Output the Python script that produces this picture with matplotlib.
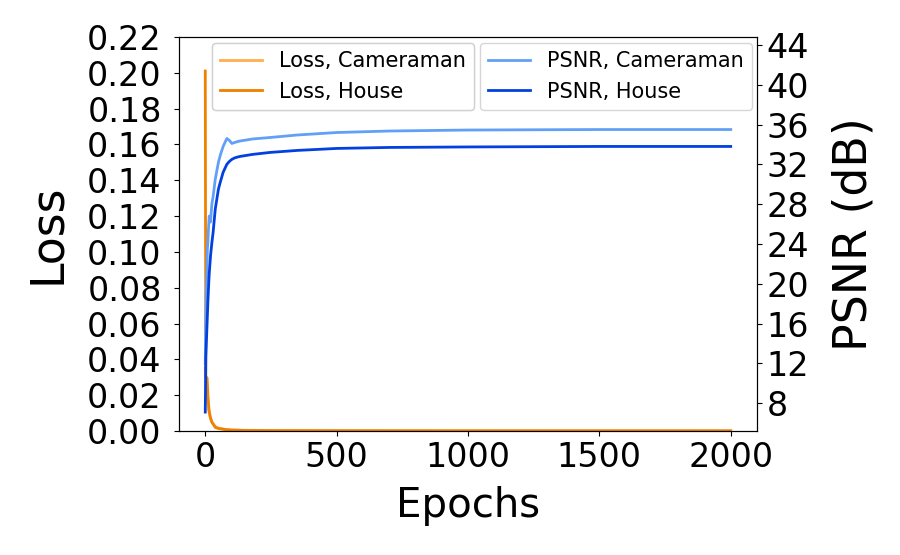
import matplotlib
matplotlib.use("Agg")
import matplotlib.pyplot as plt

# Epoch sample points
ep_loss = [0, 2, 4, 7, 10, 14, 19, 25, 38, 50, 76, 100, 150, 250, 500, 1000, 1500, 2000]
loss_cameraman = [0.035, 0.030, 0.026, 0.022, 0.016, 0.011, 0.0075, 0.005, 0.0025, 0.0016,
                  0.0009, 0.0006, 0.0004, 0.0003, 0.0002, 0.00015, 0.00012, 0.0001]
loss_house = [0.201, 0.030, 0.030, 0.0296, 0.020, 0.012, 0.0078, 0.005, 0.002, 0.0014,
              0.0008, 0.0005, 0.0003, 0.0002, 0.00015, 0.0001, 0.0001, 0.0001]

ep_psnr = [0, 2, 4, 6, 8, 10, 12, 15, 20, 25, 30, 38, 50, 57, 68, 82, 92, 101, 112, 125,
           133, 180, 247, 350, 500, 700, 1000, 1500, 2000]
psnr_cameraman = [12.0, 16.5, 19.4, 21.0, 23.5, 24.2, 25.4, 26.8, 26.2, 28.0, 28.8, 30.5,
                  32.2, 32.9, 33.8, 34.6, 34.4, 34.1, 34.2, 34.3, 34.35, 34.55, 34.7,
                  34.95, 35.2, 35.35, 35.45, 35.5, 35.5]
psnr_house = [7.1, 12.6, 14.0, 15.4, 16.8, 18.2, 19.4, 21.0, 22.8, 24.1, 25.2, 27.5,
              29.5, 30.2, 31.2, 32.0, 32.3, 32.5, 32.65, 32.75, 32.8, 33.0, 33.2,
              33.4, 33.6, 33.7, 33.75, 33.8, 33.8]

left_ticks = [0.00, 0.02, 0.04, 0.06, 0.08, 0.10, 0.12, 0.14, 0.16, 0.18, 0.20, 0.22]
right_ticks = [8, 12, 16, 20, 24, 28, 32, 36, 40, 44]
x_ticks = [0, 500, 1000, 1500, 2000]

c_loss_cam = '#ffb04f'
c_loss_house = '#f08000'
c_psnr_cam = '#62a0f8'
c_psnr_house = '#0340e0'

fig = plt.figure(figsize=(9, 5.55), dpi=100)
ax = fig.add_axes([179/900, 1-431/555, (757-179)/900, (431-37)/555])
ax2 = ax.twinx()

l1, = ax.plot(ep_loss, loss_cameraman, color=c_loss_cam, lw=2, label='Loss, Cameraman')
l2, = ax.plot(ep_loss, loss_house, color=c_loss_house, lw=2, label='Loss, House')
p1, = ax2.plot(ep_psnr, psnr_cameraman, color=c_psnr_cam, lw=2, label='PSNR, Cameraman')
p2, = ax2.plot(ep_psnr, psnr_house, color=c_psnr_house, lw=2, label='PSNR, House')

ax.set_xlim(-100, 2100)
ax.set_ylim(0, 0.22)
ax.set_yticks(left_ticks)
ax.set_yticklabels([f'{v:.2f}' for v in left_ticks])
ax.set_xticks(x_ticks)
ax2.set_ylim(5.2, 44.8)
ax2.set_yticks(right_ticks)

ax.tick_params(labelsize=24)
ax.tick_params(axis='y', pad=9)
ax2.tick_params(labelsize=24)
ax.set_xlabel('Epochs', fontsize=29, labelpad=9)
ax.set_ylabel('Loss', fontsize=33, labelpad=12)
ax2.set_ylabel('PSNR (dB)', fontsize=33, labelpad=16)

leg1 = ax.legend(handles=[l1, l2], loc='upper left', bbox_to_anchor=(0.057, 0.985),
                 borderaxespad=0, fontsize=15)
ax.add_artist(leg1)
ax2.legend(handles=[p1, p2], loc='upper right', bbox_to_anchor=(0.991, 0.985),
           borderaxespad=0, fontsize=15)

fig.savefig('out.png', dpi=100)
